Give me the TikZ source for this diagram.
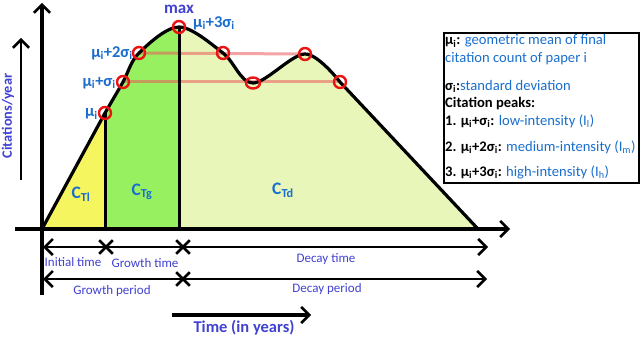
\documentclass[tikz,border=0pt]{standalone}
\usepackage{fontspec}
\setmainfont{Carlito}
\usetikzlibrary{arrows.meta,shapes.geometric,shapes.misc}
\definecolor{cyel}{RGB}{245,245,95}
\definecolor{cgrn}{RGB}{150,240,95}
\definecolor{clgr}{RGB}{232,247,185}
\definecolor{cblue}{RGB}{25,110,205}
\definecolor{cpur}{RGB}{65,65,210}
\definecolor{cring}{RGB}{235,20,20}
\definecolor{cpink}{RGB}{235,90,90}
\newcommand{\fsz}[1]{\fontsize{#1}{#1}\selectfont}
\begin{document}
\begin{tikzpicture}[x=1pt,y=-1pt,
  barb/.tip={Straight Barb[length=8pt,width=16pt,line width=2.6pt]},
  axisline/.style={line width=3.2pt,-barb},
  curveline/.style={line width=3.2pt,line join=round},
  vline/.style={line width=3pt},
  pinkline/.style={line width=3pt,cpink,opacity=0.55},
  ring/.style={circle,draw=cring,line width=2.4pt,minimum size=12pt,inner sep=0pt},
  ringe/.style={ellipse,draw=cring,line width=2.4pt,minimum width=14pt,minimum height=11pt,inner sep=0pt},
  rowarrow/.style={line width=2.6pt,barb-barb},
  xmark/.style={cross out,draw,line width=2.6pt,minimum size=11pt,inner sep=0pt},
  mulabel/.style={font=\fsz{16.5}\bfseries,text=cblue,inner sep=0pt},
  clabel/.style={font=\fsz{17.5}\bfseries,text=cblue,inner sep=0pt},
  tlabel/.style={font=\fsz{13},text=cpur,inner sep=0pt},
  boxt/.style={font=\fsz{14.6},inner sep=0pt,anchor=base west}
]
\useasboundingbox (0,0) rectangle (640,337);
% key points
\coordinate (O) at (42,229);
\coordinate (M) at (105,113);
\coordinate (S1) at (123,82);
\coordinate (S2) at (139,53);
\coordinate (P) at (179,27);
\coordinate (R2) at (223,53);
\coordinate (D) at (253,83);
\coordinate (Q) at (305,54);
\coordinate (R1) at (340,82);
\coordinate (E) at (478,229);
% fills
\begin{scope}
\clip (O) -- plot[smooth,tension=0.55] coordinates {(M) (S1) (S2) (P) (R2) (D) (Q) (R1)} -- (E) -- cycle;
\fill[cyel] (42,0) rectangle (105,229);
\fill[cgrn] (105,0) rectangle (179,229);
\fill[clgr] (179,0) rectangle (500,229);
\end{scope}
% pink level lines
\draw[pinkline] (S2) -- (Q);
\draw[pinkline] (S1) -- (R1);
% curve
\draw[curveline] (O) -- plot[smooth,tension=0.55] coordinates {(M) (S1) (S2) (P) (R2) (D) (Q) (R1)} -- (E);
\draw[vline] (M) -- (M |- O);
\draw[vline] (P) -- (P |- O);
% axes
\coordinate (xs) at (15,229);
\coordinate (xe) at (510,229);
\coordinate (ys) at (42,295);
\coordinate (ye) at (42,3);
\draw[axisline] (xs) -- (xe);
\draw[axisline] (ys) -- (ye);
\coordinate (la) at (21,180);
\coordinate (lb) at (21,38);
\draw[axisline,line width=2.8pt] (la) -- (lb);
% rings
\node[ring] (cM) at (M) {};
\node[ring] (cS1) at (S1) {};
\node[ring] (cS2) at (S2) {};
\node[ring] (cP) at (P) {};
\node[ring] (cR2) at (R2) {};
\node[ringe] (cD) at (D) {};
\node[ring] (cQ) at (Q) {};
\node[ring] (cR1) at (R1) {};
% labels on curve
\node[mulabel,anchor=east] (lM) at (98,114) {μ\textsubscript{i}};
\node[mulabel,anchor=east] (lS1) at (116,83) {μ\textsubscript{i}+σ\textsubscript{i}};
\node[mulabel,anchor=east] (lS2) at (133,53) {μ\textsubscript{i}+2σ\textsubscript{i}};
\node[font=\fsz{17}\bfseries,text=cpur,inner sep=0pt] (lmax) at (179,9) {max};
\node[mulabel,anchor=west] (lP) at (193,23) {μ\textsubscript{i}+3σ\textsubscript{i}};
\node[clabel] (ctl) at (81,194) {C\textsubscript{Tl}};
\node[clabel] (ctg) at (142,192) {C\textsubscript{Tg}};
\node[clabel] (ctd) at (283,190) {C\textsubscript{Td}};
\node[font=\fsz{14.3}\bfseries,text=cpur,rotate=90,inner sep=0pt] (ylab) at (8,116) {Citations/year};
% bottom rows
\coordinate (r1a) at (43,247);
\coordinate (r1b) at (488,247);
\coordinate (r2a) at (43,279);
\coordinate (r2b) at (487,279);
\draw[rowarrow] (r1a) -- (r1b);
\draw[rowarrow] (r2a) -- (r2b);
\node[xmark] (x1) at (106,247) {};
\node[xmark] (x2) at (183,247) {};
\node[xmark] (x3) at (183,279) {};
\node[tlabel] (tinit) at (73,262) {Initial time};
\node[tlabel] (tgrow) at (145,263) {Growth time};
\node[tlabel] (tdec) at (326,259) {Decay time};
\node[tlabel] (pgrow) at (112,291) {Growth period};
\node[tlabel] (pdec) at (327,289) {Decay period};
\coordinate (ta) at (172,315);
\coordinate (tb) at (311,315);
\draw[axisline] (ta) -- (tb);
\node[font=\fsz{16.5}\bfseries,text=cpur,inner sep=0pt] (tyears) at (244,328) {Time (in years)};
% legend box
\node[draw,line width=2pt,minimum width=195pt,minimum height=150pt,anchor=north west,inner sep=0pt] (box) at (443,32) {};
\node[boxt] (b1) at (445,45) {\textbf{μ\textsubscript{i}:} \textcolor{cblue}{geometric mean of final}};
\node[boxt] (b2) at (445,63) {\textcolor{cblue}{citation count of paper i}};
\node[boxt] (b3) at (445,90) {\textbf{σ\textsubscript{i}:}\textcolor{cblue}{standard deviation}};
\node[boxt] (b4) at (445,107) {\textbf{Citation peaks:}};
\node[boxt] (b5) at (445,125) {\textbf{1. μ\textsubscript{i}+σ\textsubscript{i}:} \textcolor{cblue}{low-intensity (I\textsubscript{l})}};
\node[boxt] (b6) at (445,151) {\textbf{2. μ\textsubscript{i}+2σ\textsubscript{i}:} \textcolor{cblue}{medium-intensity (I\textsubscript{m})}};
\node[boxt] (b7) at (445,176) {\textbf{3. μ\textsubscript{i}+3σ\textsubscript{i}:} \textcolor{cblue}{high-intensity (I\textsubscript{h})}};
\end{tikzpicture}
\end{document}
